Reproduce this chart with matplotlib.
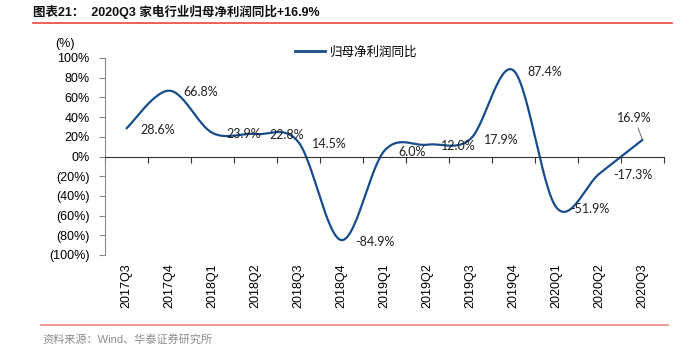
import numpy as np
import matplotlib
matplotlib.use("Agg")
import matplotlib.pyplot as plt
from matplotlib.lines import Line2D

quarters = ["2017Q3", "2017Q4", "2018Q1", "2018Q2", "2018Q3", "2018Q4", "2019Q1",
            "2019Q2", "2019Q3", "2019Q4", "2020Q1", "2020Q2", "2020Q3"]
growth = [28.6, 66.8, 23.9, 22.8, 14.5, -84.9, 6.0, 12.0, 17.9, 87.4, -51.9, -17.3, 16.9]
y_ticks = [100, 80, 60, 40, 20, 0, -20, -40, -60, -80, -100]
y_labels = ["100%", "80%", "60%", "40%", "20%", "0%", "(20%)", "(40%)", "(60%)", "(80%)", "(100%)"]

title = "图表21：  2020Q3 家电行业归母净利润同比+16.9%"
series_name = "归母净利润同比"
source = "资料来源：Wind、华泰证券研究所"

LINE = "#174D8C"
CJK = ["Liberation Sans", "Noto Sans CJK SC"]


def smooth(xs, ys, n=30):
    # excel-like smoothed line (catmull-rom as cubic bezier)
    p = np.column_stack([xs, ys]).astype(float)
    p = np.vstack([p[0], p, p[-1]])
    out = []
    t = np.linspace(0, 1, n)[:, None]
    for i in range(1, len(p) - 2):
        a, b = p[i], p[i + 1]
        c1 = a + (p[i + 1] - p[i - 1]) / 6
        c2 = b - (p[i + 2] - p[i]) / 6
        seg = (1 - t) ** 3 * a + 3 * (1 - t) ** 2 * t * c1 + 3 * (1 - t) * t ** 2 * c2 + t ** 3 * b
        out.append(seg if i == 1 else seg[1:])
    out = np.vstack(out)
    return out[:, 0], out[:, 1]


fig = plt.figure(figsize=(6.89, 3.53), dpi=100)
ax = fig.add_axes([105 / 689, 1 - 255 / 353, 559 / 689, 197 / 353])

x = np.arange(len(quarters))
sx, sy = smooth(x, growth)
ax.plot(sx, sy, color=LINE, lw=1.6, solid_capstyle="round")

ax.set_xlim(-0.5, len(quarters) - 0.5)
ax.set_ylim(-100, 100)

# y axis
ax.set_yticks(y_ticks)
ax.set_yticklabels(y_labels, fontsize=9, family="Liberation Sans")
ax.tick_params(axis="y", direction="out", length=4, width=0.8, color="#8c8c8c", pad=7)
ax.spines["left"].set_color("#8c8c8c")
ax.spines["left"].set_linewidth(0.8)
ax.spines["top"].set_visible(False)
ax.spines["right"].set_visible(False)

# zero line with ticks between categories
ax.spines["bottom"].set_position(("data", 0))
ax.spines["bottom"].set_color("#333333")
ax.spines["bottom"].set_linewidth(0.8)
ax.set_xticks(x)
ax.set_xticklabels([])
ax.tick_params(axis="x", which="major", length=0)
ax.set_xticks(np.arange(len(quarters) + 1) - 0.5, minor=True)
ax.tick_params(axis="x", which="minor", direction="out", length=4, width=0.8, color="#333333")

# category labels at the bottom
sec = ax.secondary_xaxis(0.0)
sec.set_xticks(x)
sec.set_xticklabels(quarters, rotation=90, fontsize=9, family="Liberation Sans")
sec.tick_params(length=0, pad=6)
sec.spines["bottom"].set_visible(False)

# data labels
for i, v in enumerate(growth):
    txt = f"{v:.1f}%"
    if i == len(growth) - 1:
        ax.annotate(txt, xy=(i, v), xytext=(-6, 16), textcoords="offset points",
                    ha="center", va="center", fontsize=9, family="Lato", color="#222222",
                    arrowprops=dict(arrowstyle="-", color="#555555", lw=0.6,
                                    shrinkA=1, shrinkB=0))
    else:
        ax.annotate(txt, xy=(i, v), xytext=(10, -1), textcoords="offset points",
                    ha="left", va="center", fontsize=9, family="Lato", color="#222222")

# legend
h = Line2D([], [], color=LINE, lw=2)
ax.legend([h], [series_name], loc="center left", bbox_to_anchor=(0.34, 1.03),
          frameon=False, borderpad=0, borderaxespad=0, handlelength=2.4,
          handletextpad=0.4, prop={"family": CJK, "size": 9})

fig.text(55 / 689, 1 - 44 / 353, "(%)", fontsize=9, family="Liberation Sans",
         ha="left", va="center")

# header and footer
fig.text(33 / 689, 1 - 12 / 353, title, fontsize=9, fontweight="bold", family=CJK,
         ha="left", va="center", color="#111111")
fig.add_artist(Line2D([33 / 689, 672 / 689], [1 - 22.5 / 353] * 2, color="#E8473B", lw=1.2))
fig.add_artist(Line2D([41 / 689, 668 / 689], [1 - 325 / 353] * 2, color="#F09A94", lw=1.4))
fig.text(42 / 689, 1 - 339 / 353, source, fontsize=8, family=CJK, color="#8c8c8c",
         ha="left", va="center")

fig.savefig("out.png", dpi=100)
